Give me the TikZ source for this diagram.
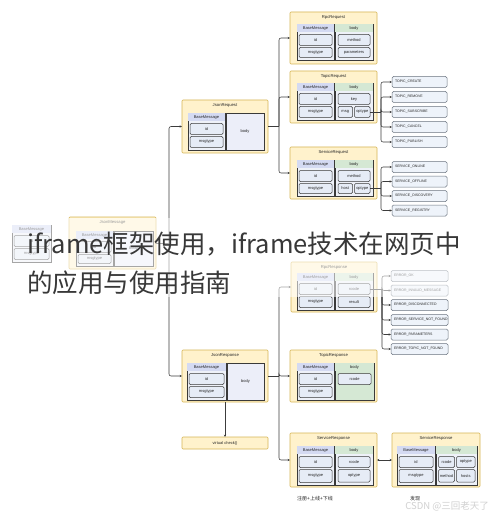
\documentclass[tikz,border=0pt]{standalone}
\usepackage{fontspec}
\setmainfont{Liberation Sans}
\newfontfamily\cjk{Noto Sans CJK SC}
\usetikzlibrary{arrows.meta}
\definecolor{outerF}{HTML}{FFF2CC}
\definecolor{outerD}{HTML}{D6B656}
\definecolor{contF}{HTML}{EEF1F8}
\definecolor{contD}{HTML}{3A3A3A}
\definecolor{hdrBF}{HTML}{D4DAF2}
\definecolor{hdrGF}{HTML}{D5E8D4}
\definecolor{fldF}{HTML}{E6ECF6}
\definecolor{enumF}{HTML}{EEF3FA}
\definecolor{enumD}{HTML}{6B7480}
\definecolor{lineC}{HTML}{3C3C3C}
\tikzset{
 base/.style={inner sep=0pt, outer sep=0pt, font=\fontsize{4}{4.5}\selectfont, text=black!85},
 outer/.style={base, draw=outerD, fill=outerF, line width=0.6pt, rounded corners=1pt},
 cont/.style={base, draw=contD, fill=contF, line width=0.6pt},
 hdrB/.style={base, fill=hdrBF},
 hdrG/.style={base, fill=hdrGF},
 fld/.style={base, draw=contD, fill=fldF, line width=0.5pt, rounded corners=1.2pt},
 enum/.style={base, draw=enumD, fill=enumF, line width=0.5pt, rounded corners=1.5pt},
 enumtxt/.style={base, font=\fontsize{3.5}{4}\selectfont, anchor=west},
 ttl/.style={base, font=\fontsize{4.2}{5}\selectfont},
 wire/.style={draw=lineC, line width=0.55pt, rounded corners=2pt},
 conn/.style={wire, -{Stealth[length=2.4pt,width=2.2pt]}},
 overlay/.style={inner sep=0pt, anchor=west, font=\cjk\fontsize{25.5}{28}\selectfont, text=black!78},
}
% generic box by corners: style, name, x1, y1, x2, y2, text
\newcommand{\bx}[7]{\node[#1,minimum width={(#5)-(#3)},minimum height={(#6)-(#4)}] (#2) at ({((#3)+(#5))/2},{((#4)+(#6))/2}) {#7};}
% BaseMessage container: prefix, x1, y1, x2, y2
\newcommand{\basemsg}[5]{%
 \bx{cont}{#1}{#2}{#3}{#4}{#5}{}
 \bx{hdrB}{#1-h}{#2+0.3}{#3+0.3}{#4-0.3}{#3+8}{BaseMessage}
 \bx{fld}{#1-id}{#2+2}{#3+10.5}{#4-2}{#3+21.5}{id}
 \bx{fld}{#1-mt}{#2+2}{#3+23.5}{#4-2}{#5-2.5}{msgtype}
}
% body container with header: name, x1, y1, x2, y2, extra style
\newcommand{\bodyc}[6]{%
 \bx{cont,#6}{#1}{#2}{#3}{#4}{#5}{}
 \bx{hdrG}{#1-h}{#2+0.3}{#3+0.3}{#4-0.3}{#3+8}{body}
}
% outer box: name, x1, y1, x2, y2, title
\newcommand{\outerbox}[6]{%
 \bx{outer}{#1}{#2}{#3}{#4}{#5}{}
 \node[ttl] (#1-t) at ({((#2)+(#4))/2},{(#3)+5}) {#6};
}
% enum item: name, x1, x2, ycenter, text
\newcommand{\en}[5]{%
 \bx{enum}{#1}{#2}{(#4)-5.5}{#3}{(#4)+5.5}{}
 \node[enumtxt] (#1-l) at ([xshift=3pt]#1.west) {#5};
}
\begin{document}
\begin{tikzpicture}[x=1pt,y=-1pt]
\useasboundingbox (0,0) rectangle (490,513);
\fill[white] (0,0) rectangle (490,513);

% ---- left BaseMessage
\basemsg{lb}{12}{225}{51}{262}

% ---- JsonMessage
\outerbox{jm}{69}{217}{156}{269}{JsonMessage}
\basemsg{jmb}{76}{231}{113}{266}
\bx{cont,fill=hdrBF!45}{jmd}{114}{231}{153}{266}{body}

% ---- JsonRequest
\outerbox{jq}{182}{100}{268}{153}{JsonRequest}
\basemsg{jqb}{188}{113}{225}{150}
\bx{cont,fill=hdrBF!45}{jqd}{226}{113}{264}{150}{body}

% ---- JsonResponse
\outerbox{jr}{182}{350}{268}{402}{JsonResponse}
\basemsg{jrb}{187}{363}{226}{400}
\bx{cont,fill=hdrBF!45}{jrd}{227}{363}{264}{400}{body}

% ---- virtual check()
\bx{outer}{vc}{182}{437}{268}{449}{virtual check()}

% ---- RpcRequest
\outerbox{rq}{290}{12}{377}{64}{RpcRequest}
\basemsg{rqb}{297}{24}{334}{60}
\bodyc{rqd}{335}{24}{373}{60}{}
\bx{fld}{rq-me}{338}{34.5}{370}{45.5}{method}
\bx{fld}{rq-pa}{338}{47.5}{370}{57.5}{parameters}

% ---- TopicRequest
\outerbox{tq}{290}{71}{377}{123}{TopicRequest}
\basemsg{tqb}{297}{83}{334}{120}
\bodyc{tqd}{335}{83}{373}{120}{}
\bx{fld}{tq-key}{338}{93.5}{370}{104.5}{key}
\bx{fld}{tq-msg}{338}{106.5}{352.5}{117.5}{msg}
\bx{fld}{tq-op}{354.5}{106.5}{370}{117.5}{optype}

% ---- ServiceRequest
\outerbox{sq}{290}{147}{377}{199}{ServiceRequest}
\basemsg{sqb}{297}{160}{334}{196}
\bodyc{sqd}{335}{160}{373}{196}{}
\bx{fld}{sq-me}{338}{170.5}{370}{181.5}{method}
\bx{fld}{sq-ho}{338}{183.5}{352.5}{193.5}{host}
\bx{fld}{sq-op}{354.5}{183.5}{370}{193.5}{optype}

% ---- RpcResponse
\outerbox{rp}{291}{262}{377}{312}{RpcResponse}
\basemsg{rpb}{297}{273}{334}{310}
\bodyc{rpd}{335}{273}{373}{310}{}
\bx{fld}{rp-rc}{338}{283.5}{370}{294.5}{rcode}
\bx{fld}{rp-re}{338}{296.5}{370}{307.5}{result}

% ---- TopicResponse
\outerbox{tp}{290}{350}{377}{402}{TopicResponse}
\basemsg{tpb}{297}{363}{334}{400}
\bodyc{tpd}{335}{363}{374}{400}{fill=hdrGF}
\bx{fld}{tp-rc}{338}{373.5}{371}{384.5}{rcode}

% ---- ServiceResponse (register/online/offline)
\outerbox{sp}{290}{433}{377}{487}{ServiceResponse}
\basemsg{spb}{297}{446}{334}{485}
\bodyc{spd}{335}{446}{373}{485}{}
\bx{fld}{sp-rc}{338}{456.5}{370}{467.5}{rcode}
\bx{fld}{sp-op}{338}{469.5}{370}{482}{optype}

% ---- ServiceResponse (discovery)
\outerbox{sd}{392}{433}{480}{487}{ServiceResponse}
\basemsg{sdb}{397}{446}{435}{485}
\bodyc{sdd}{436}{446}{477}{485}{}
\bx{fld}{sd-rc}{438.5}{456.5}{454.5}{467.5}{rcode}
\bx{fld}{sd-op}{456.5}{456.5}{475}{467.5}{optype}
\bx{fld}{sd-me}{438.5}{469.5}{454.5}{482}{method}
\bx{fld}{sd-ho}{456.5}{469.5}{475}{482}{hosts}

% ---- enums
\en{t1}{392}{447}{82}{TOPIC\_CREATE}
\en{t2}{392}{447}{97}{TOPIC\_REMOVE}
\en{t3}{392}{447}{112}{TOPIC\_SUBSCRIBE}
\en{t4}{392}{447}{127}{TOPIC\_CANCEL}
\en{t5}{392}{447}{142}{TOPIC\_PUBLISH}
\en{s1}{392}{447}{167}{SERVICE\_ONLINE}
\en{s2}{392}{447}{181.5}{SERVICE\_OFFLINE}
\en{s3}{392}{447}{196}{SERVICE\_DISCOVERY}
\en{s4}{392}{447}{210.5}{SERVICE\_REGISTRY}
\en{e1}{391}{448}{276}{ERROR\_OK}
\en{e2}{391}{448}{290.5}{ERROR\_INVALID\_MESSAGE}
\en{e3}{391}{448}{305}{ERROR\_DISCONNECTED}
\en{e4}{391}{448}{320}{ERROR\_SERVICE\_NOT\_FOUND}
\en{e5}{391}{448}{334.5}{ERROR\_PARAMETERS}
\en{e6}{391}{448}{349}{ERROR\_TOPIC\_NOT\_FOUND}

% ---- connectors
\coordinate (bm) at (169,243);
\draw[wire] (jm.east) -- (bm);
\draw[conn] (bm) |- (jq.west);
\draw[conn] (bm) |- (jr.west);

\coordinate (bq) at (279,126.5);
\draw[wire] (jq.east) -- (bq);
\foreach \n in {rq,tq,sq} \draw[conn] (bq) |- (\n.west);

\coordinate (br) at (279,376);
\draw[wire] (jr.east) -- (br);
\foreach \n in {rp,tp,sp} \draw[conn] (br) |- (\n.west);

\draw[conn] (jr.south) -- (vc.north);

\coordinate (bt) at (381,112);
\draw[wire] (tq-op.east) -- (bt);
\foreach \n in {t1,t2,t3,t4,t5} \draw[conn] (bt) |- (\n.west);

\coordinate (bs) at (381,188.5);
\draw[wire] (sq-op.east) -- (bs);
\foreach \n in {s1,s2,s3,s4} \draw[conn] (bs) |- (\n.west);

\coordinate (be) at (382,289);
\draw[wire] (rp-rc.east) -- (be);
\foreach \n in {e1,e2,e3,e4,e5,e6} \draw[conn] (be) |- (\n.west);

\draw[wire, {Stealth[length=2.4pt,width=2.2pt]}-{Stealth[length=2.4pt,width=2.2pt]}] (sp.east) -- (sd.west);

% ---- bottom labels
\node[base, font=\cjk\fontsize{5}{6}\selectfont] (lab1) at (315,499) {注册+上线+下线};
\node[base, font=\cjk\fontsize{5}{6}\selectfont] (lab2) at (415,499) {发现};

% ---- overlay band and title text
\fill[white, opacity=0.55] (0,218) rectangle (490,297);
\node[overlay] (ov1) at (27,244) {iframe框架使用，iframe技术在网页中};
\node[overlay] (ov2) at (27,283) {的应用与使用指南};

% ---- watermark
\node[inner sep=0pt, anchor=east, font=\cjk\fontsize{9.5}{10}\selectfont, text=black!18] (wm) at (489,506) {CSDN @三回老天了};
\end{tikzpicture}
\end{document}
